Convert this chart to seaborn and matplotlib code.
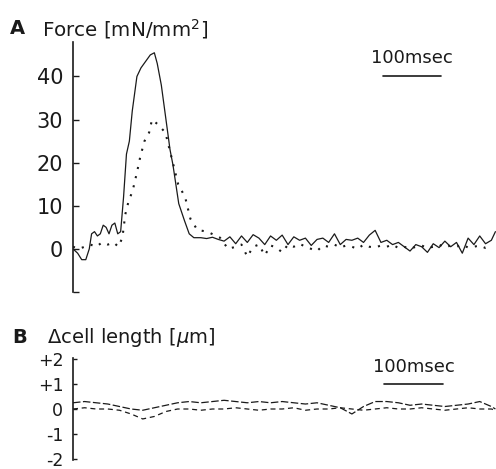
import numpy as np
import pandas as pd
import matplotlib
matplotlib.use("Agg")
import matplotlib.pyplot as plt
import seaborn as sns

# ---------------- data ----------------
# Panel A: force traces (time in ms, force in mN/mm^2)
t_force_solid = [0, 8, 15, 22, 28, 32, 37, 42, 47, 52, 57, 62, 67, 72, 77, 82, 87, 92, 97, 102,
                 110, 117, 125, 133, 140, 145, 152, 160, 167, 172, 177, 182, 192, 200, 208,
                 220, 230, 240, 250, 260, 270, 280, 290, 300, 310, 320, 330, 340, 350, 360,
                 370, 380, 390, 400, 410, 420, 430, 440, 450, 460, 470, 480, 490, 500, 510,
                 520, 530, 540, 550, 560, 570, 580, 590, 600, 610, 620, 630, 640, 650, 660,
                 670, 680, 690, 700, 710, 720, 727]
force_solid = [0, -1, -2.5, -2.5, 0, 3.5, 4, 3, 3.5, 5.5, 5, 3.5, 5.5, 6, 3.5, 4, 12, 22, 25, 32,
               40, 42, 43.5, 45, 45.5, 43, 38, 30, 23, 19.5, 15, 10.5, 6.5, 3.5, 2.6,
               2.6, 2.4, 2.7, 2.2, 1.8, 2.8, 1.2, 3.0, 1.5, 3.3, 2.5, 1.0, 3.0, 2.0, 3.2,
               1.0, 2.8, 2.0, 2.5, 0.8, 2.2, 2.5, 1.5, 3.5, 1.0, 2.2, 2.0, 2.5, 1.5, 3.2,
               4.3, 1.5, 2.0, 1.0, 1.5, 0.5, -0.5, 1.0, 0.5, -0.8, 1.2, 0.3, 1.8, 0.5, 1.5,
               -1.0, 2.5, 1.0, 3.0, 1.2, 2.0, 4.0]

t_force_dot = [0, 10, 20, 30, 40, 50, 60, 70, 78, 85, 90, 95, 103, 110, 116, 123, 131, 136,
               145, 159, 170, 181, 193, 202, 214, 231, 253, 267, 280, 290, 300, 310, 320,
               330, 340, 350, 360, 370, 380, 390, 400, 410, 420, 430, 440, 450, 460, 470,
               480, 490, 500, 510, 520, 530, 540, 550, 560, 570, 580, 590, 600, 610, 620,
               630, 640, 650, 660, 670, 680, 690, 700, 710, 720]
force_dot = [0.5, 0, 0.5, 1, 0.5, 1.5, 1, 1.5, 0.5, 2.6, 8, 10.7, 13.7, 17.7, 21.5, 25, 27, 30,
             29, 27, 21, 15, 12, 7, 4.4, 4, 2.6, 0, 0.5, 1.0, -1.8, 0.5, 1.0,
             -1.5, 0.8, 0.3, -0.8, 1.0, 0.5, 1.2, 0.5, 0.0, -0.5, 0.8, 0.5, 1.0, 0.3, 0.8,
             0.5, 0.0, 1.0, 0.5, 0.3, 0.8, 0.5, 1.0, 0.2, 0.5, 0.0, 0.5, 0.8, 0.2, 0.5,
             1.0, 0.3, 0.8, 0.5, 1.0, 0.3, 0.5, 0.8, 0.2, 0.5]

# Panel B: cell length change (um)
t_len = [0, 20, 40, 60, 80, 100, 120, 140, 160, 180, 200, 220, 240, 260, 280, 300, 320, 340,
         360, 380, 400, 420, 440, 460, 480, 500, 520, 540, 560, 580, 600, 620, 640, 660,
         680, 700, 720, 727]
len_upper = [0.25, 0.3, 0.25, 0.2, 0.1, 0.0, -0.05, 0.05, 0.15, 0.25, 0.3, 0.25, 0.3, 0.35,
             0.3, 0.25, 0.3, 0.25, 0.3, 0.25, 0.2, 0.25, 0.15, 0.05, -0.2, 0.1, 0.3, 0.3,
             0.25, 0.15, 0.2, 0.15, 0.1, 0.15, 0.2, 0.3, 0.1, 0.0]
len_lower = [0.0, 0.05, 0.0, 0.0, -0.05, -0.2, -0.4, -0.3, -0.1, 0.0, 0.0, -0.05, 0.0, 0.0,
             0.05, 0.0, -0.05, 0.0, 0.0, 0.05, -0.05, 0.0, 0.0, 0.05, 0.0, -0.05, 0.0, 0.05,
             0.0, 0.0, 0.05, 0.0, -0.05, 0.0, 0.05, 0.0, 0.0, -0.05]

force_ticks = [-10, 0, 10, 20, 30, 40]
force_ticklabels = ["", "0", "10", "20", "30", "40"]
len_ticks = [2, 1, 0, -1, -2]
len_ticklabels = ["+2", "+1", "0", "-1", "-2"]

scale_ms = 100
scale_a_start, scale_a_y, scale_a_text_y = 533, 40.2, 44.3
scale_b_start, scale_b_y, scale_b_text_y = 536, 1.02, 1.69

# ---------------- figure ----------------
sns.set_style("white")
plt.rcParams["font.family"] = ["DejaVu Sans"]

W, H = 496, 469
fig = plt.figure(figsize=(W / 100, H / 100), dpi=100)

ink = "#1a1a1a"

def px_axes(left, top, right, bottom):
    return fig.add_axes([left / W, 1 - bottom / H, (right - left) / W, (bottom - top) / H])

axA = px_axes(73, 42, 496, 292)
axB = px_axes(73, 358, 496, 460)

dfA1 = pd.DataFrame({"t": t_force_solid, "f": force_solid})
dfA2 = pd.DataFrame({"t": t_force_dot, "f": force_dot})
sns.lineplot(data=dfA1, x="t", y="f", ax=axA, color=ink, lw=0.9)
sns.lineplot(data=dfA2, x="t", y="f", ax=axA, color=ink, lw=1.5, linestyle=(0, (1, 3.5)))

dfB = pd.DataFrame({"t": t_len, "u": len_upper, "l": len_lower})
sns.lineplot(data=dfB, x="t", y="u", ax=axB, color=ink, lw=0.9, linestyle=(0, (6, 2)))
sns.lineplot(data=dfB, x="t", y="l", ax=axB, color=ink, lw=0.9, linestyle=(0, (4, 3)))

for ax in (axA, axB):
    ax.set_xlim(0, 728)
    ax.set_xlabel("")
    ax.set_ylabel("")
    ax.set_xticks([])
    sns.despine(ax=ax, top=True, right=True, bottom=True, left=False)
    ax.spines["left"].set_linewidth(1.2)
    ax.spines["left"].set_color(ink)
    ax.patch.set_alpha(0)

axA.set_ylim(-10, 48)
axA.set_yticks(force_ticks)
axA.set_yticklabels(force_ticklabels)
axA.tick_params(axis="y", direction="in", length=4, width=1, pad=7, labelsize=15,
                colors=ink, left=True)

axB.set_ylim(-2.05, 2.05)
axB.set_yticks(len_ticks)
axB.set_yticklabels(len_ticklabels)
axB.tick_params(axis="y", direction="in", length=3, width=1, pad=7, labelsize=12.5,
                colors=ink, left=True)

# scale bars
axA.plot([scale_a_start, scale_a_start + scale_ms], [scale_a_y, scale_a_y], color=ink, lw=1.2)
axA.text(scale_a_start + scale_ms / 2, scale_a_text_y, "100msec", ha="center", va="center",
         fontsize=13, color=ink)
axB.plot([scale_b_start, scale_b_start + scale_ms], [scale_b_y, scale_b_y], color=ink, lw=1.2,
         clip_on=False)
axB.text(scale_b_start + scale_ms / 2, scale_b_text_y, "100msec", ha="center", va="center",
         fontsize=13, color=ink, clip_on=False)

# panel titles
fig.text(10 / W, 1 - 29 / H, "A", fontsize=14, fontweight="bold", color=ink, va="center")
fig.text(42 / W, 1 - 29 / H, "Force [mN/mm$^2$]", fontsize=14.3, color=ink, va="center")
fig.text(12 / W, 1 - 337 / H, "B", fontsize=14, fontweight="bold", color=ink, va="center")
fig.text(47 / W, 1 - 337 / H, "Δcell length [$\\mu$m]", fontsize=14, color=ink, va="center")

fig.savefig("out.png", dpi=100)
